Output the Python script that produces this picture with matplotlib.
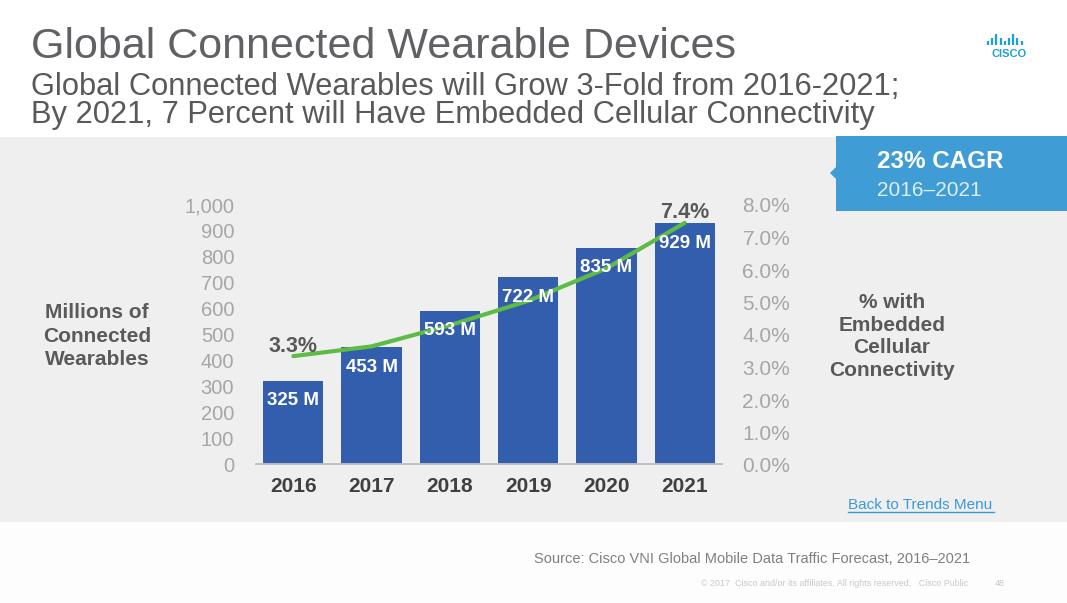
import matplotlib.pyplot as plt
from matplotlib.patches import Rectangle, Polygon
from matplotlib.lines import Line2D
from matplotlib.ticker import FuncFormatter

plt.rcParams['font.family'] = ['Liberation Sans', 'DejaVu Sans']

# data
years = ['2016', '2017', '2018', '2019', '2020', '2021']
wearables = [325, 453, 593, 722, 835, 929]          # millions
bar_labels = ['325 M', '453 M', '593 M', '722 M', '835 M', '929 M']
pct_cellular = [3.35, 3.65, 4.3, 5.05, 6.05, 7.45]  # % with embedded cellular
pct_end_labels = ['3.3%', '7.4%']
left_ticks = [0, 100, 200, 300, 400, 500, 600, 700, 800, 900, 1000]
right_ticks = [0, 1, 2, 3, 4, 5, 6, 7, 8]

W, H = 1067, 603
BAR_BLUE = '#335EAD'
GREEN = '#5DBB46'
CALLOUT = '#3F9CD5'


def fx(x):
    return x / W


def fy(y):
    return 1 - y / H


fig = plt.figure(figsize=(W / 100, H / 100), dpi=100, facecolor='#FDFDFD')

# background bands
fig.patches.append(Rectangle((0, fy(137)), 1, fy(0) - fy(137), transform=fig.transFigure,
                             facecolor='white', edgecolor='none', zorder=-10))
fig.patches.append(Rectangle((0, fy(522)), 1, fy(137) - fy(522), transform=fig.transFigure,
                             facecolor='#EFEFEF', edgecolor='none', zorder=-10))

# callout
fig.patches.append(Rectangle((fx(836), fy(211)), 1 - fx(836), fy(136) - fy(211),
                             transform=fig.transFigure, facecolor=CALLOUT, edgecolor='none', zorder=1))
fig.patches.append(Polygon([(fx(837), fy(166)), (fx(830), fy(173)), (fx(837), fy(180))], closed=True,
                           transform=fig.transFigure, facecolor=CALLOUT, edgecolor='none', zorder=1))
fig.text(fx(877), fy(161), '23% CAGR', color='white', fontsize=17.5, fontweight='bold', va='center')
fig.text(fx(877), fy(191), '2016–2021', color='#DCEEF9', fontsize=15, va='center')

# titles
fig.text(fx(31), fy(58), 'Global Connected Wearable Devices', fontsize=31, color='#606164', va='baseline')
fig.text(fx(31), fy(95), 'Global Connected Wearables will Grow 3-Fold from 2016-2021;',
         fontsize=22.2, color='#58595B', va='baseline')
fig.text(fx(31), fy(123), 'By 2021, 7 Percent will Have Embedded Cellular Connectivity',
         fontsize=22.2, color='#58595B', va='baseline')

# cisco logo
logo_heights = [4, 7, 11, 7, 4, 7, 11, 7, 4]
for i, h in enumerate(logo_heights):
    x = 988 + i * 4.2
    fig.add_artist(Line2D([fx(x), fx(x)], [fy(45), fy(45 - h)], transform=fig.transFigure,
                          color='#1BA0D7', lw=1.6, solid_capstyle='butt'))
fig.text(fx(1009), fy(54), 'CISCO', fontsize=8, fontweight='bold', color='#1BA0D7', ha='center', va='center')

# main chart
ax = fig.add_axes([fx(255), fy(465), fx(723) - fx(255), fy(205) - fy(465)])
ax.set_facecolor('none')
x = range(len(years))
ax.bar(x, wearables, width=0.77, color=BAR_BLUE, zorder=2)
ax.axhline(0, color='#BFBFBF', lw=3.5, zorder=3)
ax.set_xlim(-0.49, 5.49)
ax.set_ylim(0, 1000)
ax.set_yticks(left_ticks)
ax.yaxis.set_major_formatter(FuncFormatter(lambda v, p: f'{int(v):,}'))
ax.set_xticks(list(x))
ax.set_xticklabels(years, fontsize=15, fontweight='bold', color='#404040')
ax.tick_params(axis='y', length=0, pad=15, labelsize=14.5, labelcolor='#A6A6A6')
ax.tick_params(axis='x', length=0, pad=9)
for s in ax.spines.values():
    s.set_visible(False)

ax2 = ax.twinx()
ax2.set_ylim(0, 8)
ax2.set_yticks(right_ticks)
ax2.yaxis.set_major_formatter(FuncFormatter(lambda v, p: f'{v:.1f}%'))
ax2.tick_params(axis='y', length=0, pad=14, labelsize=15, labelcolor='#A6A6A6')
for s in ax2.spines.values():
    s.set_visible(False)
ax2.plot(list(x), pct_cellular, color=GREEN, lw=3, solid_joinstyle='round', solid_capstyle='round', zorder=3)

for i, (v, lab) in enumerate(zip(wearables, bar_labels)):
    ax2.annotate(lab, xy=(i, v), xycoords=ax.transData, xytext=(0, -20), textcoords='offset pixels',
                 ha='center', va='center', color='white', fontsize=13.5, fontweight='bold', zorder=5)

for i, lab in zip([0, len(years) - 1], pct_end_labels):
    ax2.annotate(lab, xy=(i, pct_cellular[i]), xytext=(0, 10), textcoords='offset pixels',
                 ha='center', va='center', color='#595959', fontsize=15.5, fontweight='bold',
                 annotation_clip=False)

# axis titles
fig.text(fx(97), fy(336), 'Millions of\nConnected\nWearables', fontsize=15, fontweight='bold',
         color='#5A5A5A', ha='center', va='center', linespacing=1.27)
fig.text(fx(892), fy(336.5), '% with\nEmbedded\nCellular\nConnectivity', fontsize=15, fontweight='bold',
         color='#595959', ha='center', va='center', linespacing=1.26)

# footer
fig.text(fx(848), fy(505), 'Back to Trends Menu', fontsize=11, color='#3A9AD9', va='center')
fig.add_artist(Line2D([fx(848), fx(994)], [fy(512), fy(512)], transform=fig.transFigure,
                      color='#3A9AD9', lw=1))
fig.text(fx(970), fy(559), 'Source: Cisco VNI Global Mobile Data Traffic Forecast, 2016–2021',
         fontsize=10.5, color='#7F7F7F', ha='right', va='center')
fig.text(fx(968), fy(583), '© 2017  Cisco and/or its affiliates. All rights reserved.   Cisco Public',
         fontsize=6.4, color='#C8C8C8', ha='right', va='center')
fig.text(fx(1000), fy(583), '48', fontsize=6.4, color='#C8C8C8', ha='center', va='center')

fig.savefig('out.png', dpi=100, facecolor=fig.get_facecolor())
